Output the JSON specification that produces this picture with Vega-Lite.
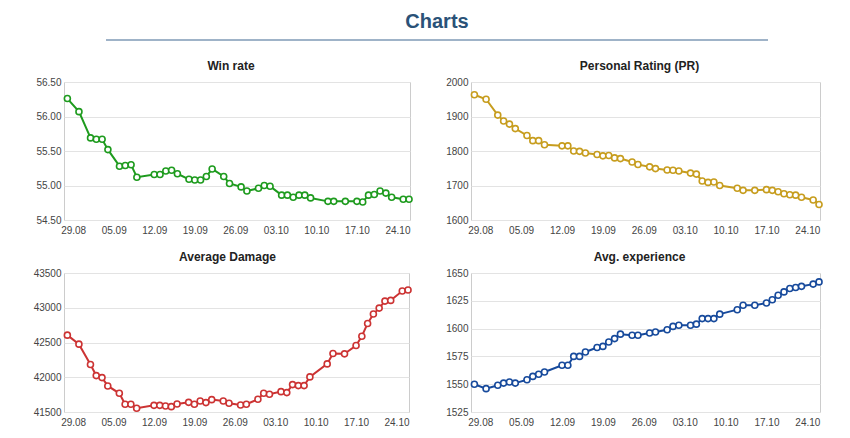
{
  "$schema": "https://vega.github.io/schema/vega-lite/v6.json",
  "background": "white",
  "padding": {"left": 32, "top": 12, "right": 5, "bottom": 5},
  "datasets": {
    "stats": [
      {"date": "2021-08-28T00:00", "win": 56.26, "pr": 1963, "dmg": 42606, "exp": 1550},
      {"date": "2021-08-30T00:00", "win": 56.07, "pr": 1950, "dmg": 42476, "exp": 1546},
      {"date": "2021-09-01T00:00", "win": 55.69, "pr": 1904, "dmg": 42183, "exp": 1549},
      {"date": "2021-09-02T00:00", "win": 55.67, "pr": 1887, "dmg": 42024, "exp": 1551},
      {"date": "2021-09-03T00:00", "win": 55.67, "pr": 1878, "dmg": 41995, "exp": 1552},
      {"date": "2021-09-04T00:00", "win": 55.52, "pr": 1865, "dmg": 41875, "exp": 1551},
      {"date": "2021-09-06T00:00", "win": 55.28, "pr": 1845, "dmg": 41769, "exp": 1554},
      {"date": "2021-09-07T00:00", "win": 55.29, "pr": 1830, "dmg": 41611, "exp": 1557},
      {"date": "2021-09-08T00:00", "win": 55.30, "pr": 1830, "dmg": 41611, "exp": 1559},
      {"date": "2021-09-09T00:00", "win": 55.12, "pr": 1818, "dmg": 41553, "exp": 1561},
      {"date": "2021-09-12T00:00", "win": 55.16, "pr": 1815, "dmg": 41596, "exp": 1567},
      {"date": "2021-09-13T00:00", "win": 55.16, "pr": 1815, "dmg": 41596, "exp": 1567},
      {"date": "2021-09-14T00:00", "win": 55.21, "pr": 1800, "dmg": 41586, "exp": 1575},
      {"date": "2021-09-15T00:00", "win": 55.22, "pr": 1799, "dmg": 41577, "exp": 1575},
      {"date": "2021-09-16T00:00", "win": 55.17, "pr": 1794, "dmg": 41615, "exp": 1579},
      {"date": "2021-09-18T00:00", "win": 55.09, "pr": 1790, "dmg": 41639, "exp": 1583},
      {"date": "2021-09-19T00:00", "win": 55.08, "pr": 1786, "dmg": 41611, "exp": 1584},
      {"date": "2021-09-20T00:00", "win": 55.08, "pr": 1787, "dmg": 41659, "exp": 1588},
      {"date": "2021-09-21T00:00", "win": 55.13, "pr": 1780, "dmg": 41635, "exp": 1591},
      {"date": "2021-09-22T00:00", "win": 55.24, "pr": 1778, "dmg": 41678, "exp": 1595},
      {"date": "2021-09-24T00:00", "win": 55.13, "pr": 1768, "dmg": 41659, "exp": 1594},
      {"date": "2021-09-25T00:00", "win": 55.03, "pr": 1761, "dmg": 41625, "exp": 1594},
      {"date": "2021-09-27T00:00", "win": 54.98, "pr": 1754, "dmg": 41601, "exp": 1596},
      {"date": "2021-09-28T00:00", "win": 54.92, "pr": 1749, "dmg": 41611, "exp": 1597},
      {"date": "2021-09-30T00:00", "win": 54.96, "pr": 1745, "dmg": 41683, "exp": 1599},
      {"date": "2021-10-01T00:00", "win": 55.00, "pr": 1744, "dmg": 41769, "exp": 1602},
      {"date": "2021-10-02T00:00", "win": 54.99, "pr": 1742, "dmg": 41755, "exp": 1603},
      {"date": "2021-10-04T00:00", "win": 54.86, "pr": 1736, "dmg": 41793, "exp": 1603},
      {"date": "2021-10-05T00:00", "win": 54.86, "pr": 1733, "dmg": 41779, "exp": 1604},
      {"date": "2021-10-06T00:00", "win": 54.83, "pr": 1713, "dmg": 41894, "exp": 1609},
      {"date": "2021-10-07T00:00", "win": 54.86, "pr": 1709, "dmg": 41880, "exp": 1609},
      {"date": "2021-10-08T00:00", "win": 54.86, "pr": 1710, "dmg": 41880, "exp": 1609},
      {"date": "2021-10-09T00:00", "win": 54.82, "pr": 1700, "dmg": 42005, "exp": 1613},
      {"date": "2021-10-12T00:00", "win": 54.77, "pr": 1692, "dmg": 42192, "exp": 1617},
      {"date": "2021-10-13T00:00", "win": 54.77, "pr": 1686, "dmg": 42341, "exp": 1621},
      {"date": "2021-10-15T00:00", "win": 54.77, "pr": 1686, "dmg": 42337, "exp": 1621},
      {"date": "2021-10-17T00:00", "win": 54.77, "pr": 1688, "dmg": 42457, "exp": 1623},
      {"date": "2021-10-18T00:00", "win": 54.76, "pr": 1686, "dmg": 42591, "exp": 1626},
      {"date": "2021-10-19T00:00", "win": 54.86, "pr": 1682, "dmg": 42774, "exp": 1630},
      {"date": "2021-10-20T00:00", "win": 54.87, "pr": 1676, "dmg": 42909, "exp": 1633},
      {"date": "2021-10-21T00:00", "win": 54.92, "pr": 1673, "dmg": 42995, "exp": 1636},
      {"date": "2021-10-22T00:00", "win": 54.89, "pr": 1672, "dmg": 43096, "exp": 1637},
      {"date": "2021-10-23T00:00", "win": 54.83, "pr": 1666, "dmg": 43106, "exp": 1638},
      {"date": "2021-10-25T00:00", "win": 54.80, "pr": 1658, "dmg": 43240, "exp": 1640},
      {"date": "2021-10-26T00:00", "win": 54.80, "pr": 1645, "dmg": 43255, "exp": 1642}
    ]
  },
  "vconcat": [
    {
      "hconcat": [
        {
          "data": {"values": []},
          "width": 41,
          "height": 10,
          "view": {"stroke": null},
          "mark": "point"
        },
        {
          "data": {"values": [{}]},
          "width": 662,
          "height": 10,
          "view": {"stroke": null},
          "title": {"text": "Charts", "fontSize": 20, "fontWeight": "bold", "color": "#2a5278", "offset": 3, "anchor": "middle"},
          "mark": {"type": "rule", "color": "#9fb3c8", "strokeWidth": 2},
          "encoding": {"y": {"datum": 0, "scale": {"domain": [-1, 1]}, "axis": null}}
        }
      ],
      "spacing": 0,
      "align": "none"
    },
    {
      "hconcat": [
        {
          "width": 346, "height": 138,
          "title": {"text": "Win rate", "dx": -6},
          "data": {"name": "stats"},
          "encoding": {
            "x": {"field": "date", "type": "temporal", "scale": {"domain": [{"year": 2021, "month": 8, "date": 27, "hours": 10}, {"year": 2021, "month": 10, "date": 26, "hours": 4}], "nice": false}, "axis": {"tickCount": {"interval": "week", "step": 1}, "format": "%d.%m", "grid": false, "labelPadding": 5, "labelFlush": false, "labelOverlap": false}},
            "y": {"field": "win", "type": "quantitative", "scale": {"domain": [54.5, 56.5], "nice": false, "zero": false}, "axis": {"values": [54.5, 55, 55.5, 56, 56.5], "format": ".2f"}}
          },
          "layer": [
            {"mark": {"type": "line", "color": "#1e9b1e", "strokeWidth": 2}},
            {"mark": {"type": "point", "filled": true, "fill": "white", "stroke": "#1e9b1e", "strokeWidth": 1.6, "size": 36, "opacity": 1}}
          ]
        },
        {
          "width": 349, "height": 138,
          "title": {"text": "Personal Rating (PR)", "dx": -6},
          "data": {"name": "stats"},
          "encoding": {
            "x": {"field": "date", "type": "temporal", "scale": {"domain": [{"year": 2021, "month": 8, "date": 27, "hours": 10}, {"year": 2021, "month": 10, "date": 26, "hours": 4}], "nice": false}, "axis": {"tickCount": {"interval": "week", "step": 1}, "format": "%d.%m", "grid": false, "labelPadding": 5, "labelFlush": false, "labelOverlap": false}},
            "y": {"field": "pr", "type": "quantitative", "scale": {"domain": [1600, 2000], "nice": false, "zero": false}, "axis": {"values": [1600, 1700, 1800, 1900, 2000], "format": "d"}}
          },
          "layer": [
            {"mark": {"type": "line", "color": "#c79d1e", "strokeWidth": 2}},
            {"mark": {"type": "point", "filled": true, "fill": "white", "stroke": "#c79d1e", "strokeWidth": 1.6, "size": 36, "opacity": 1}}
          ]
        }
      ],
      "spacing": 29,
      "align": "none"
    },
    {
      "hconcat": [
        {
          "width": 345, "height": 139,
          "title": {"text": "Average Damage", "dx": -9},
          "data": {"name": "stats"},
          "encoding": {
            "x": {"field": "date", "type": "temporal", "scale": {"domain": [{"year": 2021, "month": 8, "date": 27, "hours": 10}, {"year": 2021, "month": 10, "date": 26, "hours": 4}], "nice": false}, "axis": {"tickCount": {"interval": "week", "step": 1}, "format": "%d.%m", "grid": false, "labelPadding": 5, "labelFlush": false, "labelOverlap": false}},
            "y": {"field": "dmg", "type": "quantitative", "scale": {"domain": [41500, 43500], "nice": false, "zero": false}, "axis": {"values": [41500, 42000, 42500, 43000, 43500], "format": "d"}}
          },
          "layer": [
            {"mark": {"type": "line", "color": "#cc3333", "strokeWidth": 2}},
            {"mark": {"type": "point", "filled": true, "fill": "white", "stroke": "#cc3333", "strokeWidth": 1.6, "size": 36, "opacity": 1}}
          ]
        },
        {
          "width": 349, "height": 139,
          "title": {"text": "Avg. experience", "dx": -6},
          "data": {"name": "stats"},
          "encoding": {
            "x": {"field": "date", "type": "temporal", "scale": {"domain": [{"year": 2021, "month": 8, "date": 27, "hours": 10}, {"year": 2021, "month": 10, "date": 26, "hours": 4}], "nice": false}, "axis": {"tickCount": {"interval": "week", "step": 1}, "format": "%d.%m", "grid": false, "labelPadding": 5, "labelFlush": false, "labelOverlap": false}},
            "y": {"field": "exp", "type": "quantitative", "scale": {"domain": [1525, 1650], "nice": false, "zero": false}, "axis": {"values": [1525, 1550, 1575, 1600, 1625, 1650], "format": "d"}}
          },
          "layer": [
            {"mark": {"type": "line", "color": "#174a9c", "strokeWidth": 2}},
            {"mark": {"type": "point", "filled": true, "fill": "white", "stroke": "#174a9c", "strokeWidth": 1.6, "size": 36, "opacity": 1}}
          ]
        }
      ],
      "spacing": 30,
      "align": "none"
    }
  ],
  "spacing": 14,
  "align": "none",
  "config": {
    "font": "Liberation Sans",
    "view": {"stroke": "#cccccc"},
    "axis": {"labelFontSize": 10, "labelColor": "#444444", "title": null, "gridColor": "#e3e3e3", "domain": false, "ticks": false, "labelFont": "Liberation Sans"},
    "axisY": {"labelPadding": 3},
    "title": {"fontSize": 12, "fontWeight": "bold", "color": "#222222", "offset": 4, "font": "Liberation Sans"}
  }
}
